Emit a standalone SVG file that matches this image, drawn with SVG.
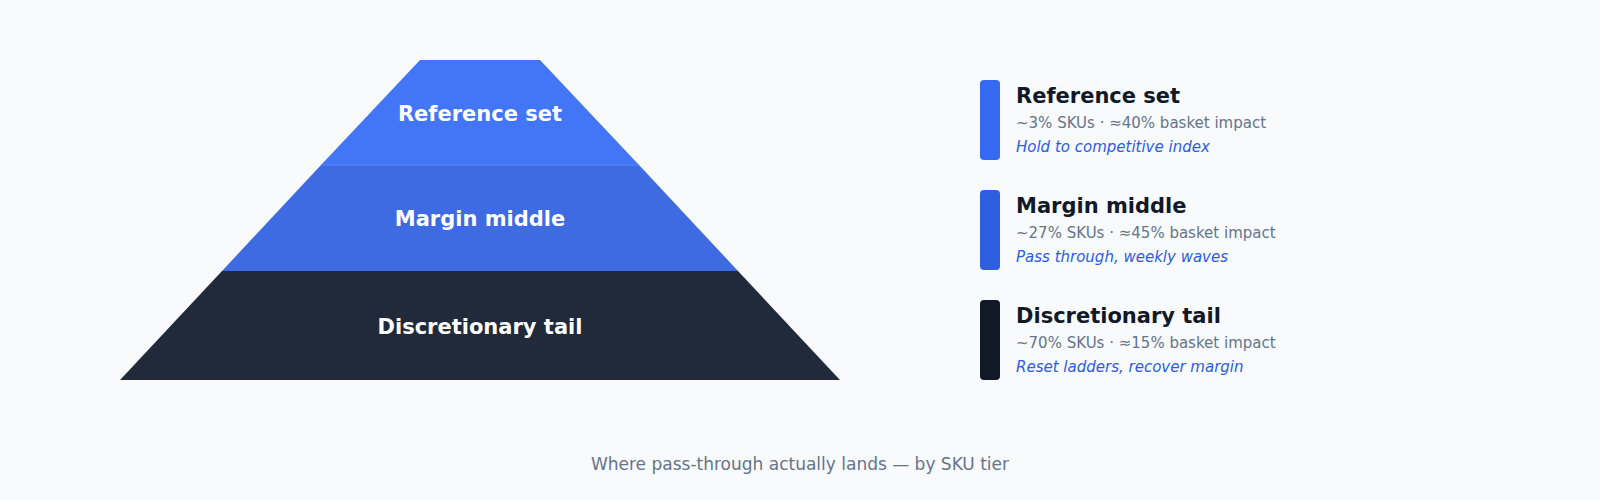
<svg xmlns="http://www.w3.org/2000/svg" width="1600" height="500" viewBox="0 0 1600 500">
<style>
.tl{font-family:"DejaVu Sans",sans-serif;font-weight:bold;font-size:21px;fill:#ffffff;text-anchor:middle}
.lt{font-family:"DejaVu Sans",sans-serif;font-weight:bold;font-size:21px;fill:#111827}
.ls{font-family:"DejaVu Sans",sans-serif;font-size:15px;fill:#64748b}
.li{font-family:"DejaVu Sans",sans-serif;font-style:italic;font-size:15px;fill:#2b5ce6}
</style>
<rect width="1600" height="500" fill="#f8fafc"/>
<g id="tier-reference"><polygon points="420,60 540,60 639,165 321,165" fill="#4375f7"/><text class="tl" x="480" y="121">Reference set</text></g>
<g id="tier-margin"><polygon points="321,165 639,165 738,271 222,271" fill="#3e6ae2"/><line x1="321" y1="165" x2="639" y2="165" stroke="#5b87ff" stroke-width="1"/><text class="tl" x="480" y="226">Margin middle</text></g>
<g id="tier-tail"><polygon points="222,271 738,271 840,380 120,380" fill="#212a3b"/><text class="tl" x="480" y="334">Discretionary tail</text></g>
<g id="legend-reference"><rect x="980" y="80" width="20" height="80" rx="4" fill="#3669f2"/><text class="lt" x="1016" y="103">Reference set</text><text class="ls" x="1016" y="128">~3% SKUs · ≈40% basket impact</text><text class="li" x="1016" y="152">Hold to competitive index</text></g>
<g id="legend-margin"><rect x="980" y="190" width="20" height="80" rx="4" fill="#2d5fe0"/><text class="lt" x="1016" y="213">Margin middle</text><text class="ls" x="1016" y="238">~27% SKUs · ≈45% basket impact</text><text class="li" x="1016" y="262">Pass through, weekly waves</text></g>
<g id="legend-tail"><rect x="980" y="300" width="20" height="80" rx="4" fill="#111827"/><text class="lt" x="1016" y="323">Discretionary tail</text><text class="ls" x="1016" y="348">~70% SKUs · ≈15% basket impact</text><text class="li" x="1016" y="372">Reset ladders, recover margin</text></g>
<g id="connectors"/>
<text x="800" y="470" font-family="DejaVu Sans,sans-serif" font-size="17" fill="#64748b" text-anchor="middle">Where pass-through actually lands — by SKU tier</text>
</svg>
